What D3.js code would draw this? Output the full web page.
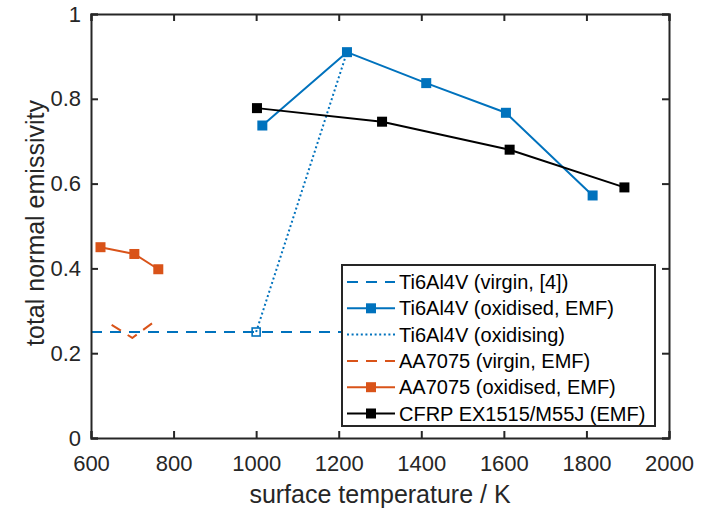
<!DOCTYPE html>
<html>
<head>
<meta charset="utf-8">
<script src="https://cdn.jsdelivr.net/npm/d3@7"></script>
<style>
  html, body { margin: 0; padding: 0; background: #fff; }
  svg { display: block; font-family: "Liberation Sans", Arial, sans-serif; }
</style>
</head>
<body>
<svg id="chart" width="711" height="510"></svg>
<script>
// Surface temperature (K) and total normal emissivity for each material
const tiVirginT   = [600, 1300];
const tiVirginE   = [0.25, 0.25];

const tiOxidT     = [1015, 1220, 1412, 1605, 1815];
const tiOxidE     = [0.737, 0.910, 0.837, 0.767, 0.572];

const tiOxidisingT = [1000, 1220];
const tiOxidisingE = [0.25, 0.910];

const aaVirginT   = [650, 700, 750];
const aaVirginE   = [0.267, 0.236, 0.272];

const aaOxidT     = [623, 705, 763];
const aaOxidE     = [0.450, 0.434, 0.398];

const cfrpT       = [1002, 1305, 1614, 1892];
const cfrpE       = [0.778, 0.746, 0.680, 0.591];

const xTicks = [600, 800, 1000, 1200, 1400, 1600, 1800, 2000];
const yTicks = [0, 0.2, 0.4, 0.6, 0.8, 1];

const legendLabels = [
  "Ti6Al4V (virgin, [4])",
  "Ti6Al4V (oxidised, EMF)",
  "Ti6Al4V (oxidising)",
  "AA7075 (virgin, EMF)",
  "AA7075 (oxidised, EMF)",
  "CFRP EX1515/M55J (EMF)"
];

const BLUE = "#0072BD", ORANGE = "#D95319", BLACK = "#000000", AXIS = "#262626";

const svg = d3.select("#chart");
const m = { left: 91, right: 669, top: 14, bottom: 438 };

const x = d3.scaleLinear().domain([600, 2000]).range([m.left, m.right]);
const y = d3.scaleLinear().domain([0, 1]).range([m.bottom, m.top]);

const zip = (a, b) => a.map((v, i) => [v, b[i]]);
const line = d3.line().x(d => x(d[0])).y(d => y(d[1]));

const series = [
  { pts: zip(tiVirginT, tiVirginE), color: BLUE, dash: "11,8", marker: false, width: 2 },
  { pts: zip(tiOxidT, tiOxidE), color: BLUE, dash: null, marker: true, width: 2 },
  { pts: zip(tiOxidisingT, tiOxidisingE), color: BLUE, dash: "2,2.6", marker: false, width: 2 },
  { pts: zip(aaVirginT, aaVirginE), color: ORANGE, dash: "11,8", marker: false, width: 2 },
  { pts: zip(aaOxidT, aaOxidE), color: ORANGE, dash: null, marker: true, width: 2 },
  { pts: zip(cfrpT, cfrpE), color: BLACK, dash: null, marker: true, width: 2 }
];

const clipId = "plotclip";
svg.append("clipPath").attr("id", clipId)
  .append("rect").attr("x", m.left).attr("y", m.top)
  .attr("width", m.right - m.left).attr("height", m.bottom - m.top);

const plot = svg.append("g").attr("clip-path", `url(#${clipId})`);

series.forEach((s, i) => {
  plot.append("path")
    .datum(s.pts)
    .attr("d", line)
    .attr("fill", "none")
    .attr("stroke", s.color)
    .attr("stroke-width", s.width)
    .attr("stroke-dasharray", s.dash)
    .attr("stroke-linejoin", "round");
  if (s.marker) {
    plot.selectAll(null).data(s.pts).enter().append("rect")
      .attr("x", d => x(d[0]) - 5)
      .attr("y", d => y(d[1]) - 5)
      .attr("width", 10).attr("height", 10)
      .attr("fill", s.color);
  }
  // open marker at the start of the oxidising run
  if (i === 2) {
    const p = s.pts[0];
    plot.append("rect")
      .attr("x", x(p[0]) - 4).attr("y", y(p[1]) - 4)
      .attr("width", 8).attr("height", 8)
      .attr("fill", "none").attr("stroke", s.color).attr("stroke-width", 1.6);
  }
});

// Axes with inward ticks on all four sides
const tickLen = 7;
const axisG = svg.append("g");
const xAxisB = d3.axisBottom(x).tickValues(xTicks).tickSize(-tickLen).tickPadding(17).tickFormat(d3.format("d"));
const xAxisT = d3.axisTop(x).tickValues(xTicks).tickSize(-tickLen).tickFormat("");
const yAxisL = d3.axisLeft(y).tickValues(yTicks).tickSize(-tickLen).tickPadding(10).tickFormat(d => d === 0 || d === 1 ? d3.format("d")(d) : d3.format(".1f")(d));
const yAxisR = d3.axisRight(y).tickValues(yTicks).tickSize(-tickLen).tickFormat("");

const gB = axisG.append("g").attr("transform", `translate(0,${m.bottom})`).call(xAxisB);
const gT = axisG.append("g").attr("transform", `translate(0,${m.top})`).call(xAxisT);
const gL = axisG.append("g").attr("transform", `translate(${m.left},0)`).call(yAxisL);
const gR = axisG.append("g").attr("transform", `translate(${m.right},0)`).call(yAxisR);

[gB, gT, gL, gR].forEach(g => {
  g.select(".domain").attr("stroke", AXIS).attr("stroke-width", 2);
  g.selectAll(".tick line").attr("stroke", AXIS).attr("stroke-width", 2);
  g.selectAll(".tick text")
    .attr("fill", AXIS)
    .style("font-size", "22px")
    .style("font-family", "'Liberation Sans', Arial, sans-serif");
});

// Axis titles
svg.append("text")
  .attr("x", (m.left + m.right) / 2)
  .attr("y", 503)
  .attr("text-anchor", "middle")
  .attr("fill", AXIS)
  .style("font-size", "25px")
  .text("surface temperature / K");

svg.append("text")
  .attr("transform", `translate(44,${(m.top + m.bottom) / 2 - 3}) rotate(-90)`)
  .attr("text-anchor", "middle")
  .attr("fill", AXIS)
  .style("font-size", "25px")
  .text("total normal emissivity");

// Legend
const lg = { x: 342, y: 265, w: 313, h: 161, rowH: 26.3, firstRow: 282 };
const legend = svg.append("g");
legend.append("rect")
  .attr("x", lg.x).attr("y", lg.y).attr("width", lg.w).attr("height", lg.h)
  .attr("fill", "#fff").attr("stroke", AXIS).attr("stroke-width", 2);

series.forEach((s, i) => {
  const cy = lg.firstRow + i * lg.rowH;
  legend.append("line")
    .attr("x1", lg.x + 5).attr("x2", lg.x + 53)
    .attr("y1", cy).attr("y2", cy)
    .attr("stroke", s.color).attr("stroke-width", s.width)
    .attr("stroke-dasharray", s.dash);
  if (s.marker) {
    legend.append("rect")
      .attr("x", lg.x + 29 - 5).attr("y", cy - 5)
      .attr("width", 10).attr("height", 10)
      .attr("fill", s.color);
  }
  legend.append("text")
    .attr("x", lg.x + 57)
    .attr("y", cy)
    .attr("dy", "0.35em")
    .attr("fill", "#000")
    .style("font-size", "20px")
    .text(legendLabels[i]);
});
</script>
</body>
</html>
